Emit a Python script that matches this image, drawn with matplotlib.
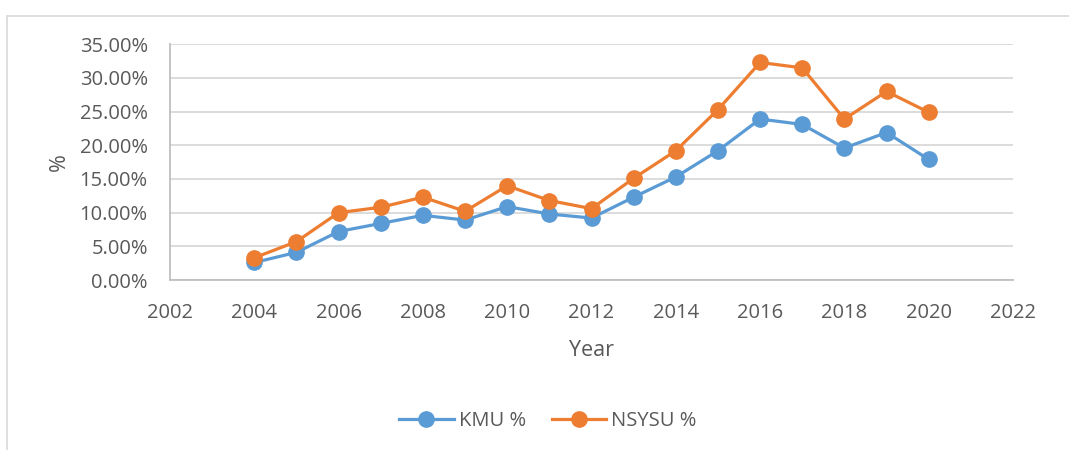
import matplotlib
matplotlib.use("Agg")
import matplotlib.pyplot as plt
from matplotlib.patches import Rectangle
from matplotlib.ticker import PercentFormatter

plt.rcParams["font.family"] = ["Open Sans", "DejaVu Sans"]

# 数据（从图中读取，单位 %）
years = [2004, 2005, 2006, 2007, 2008, 2009, 2010, 2011, 2012,
         2013, 2014, 2015, 2016, 2017, 2018, 2019, 2020]
kmu_pct = [2.6, 4.1, 7.2, 8.4, 9.6, 8.9, 10.9, 9.8, 9.2,
           12.3, 15.3, 19.2, 23.9, 23.1, 19.6, 21.9, 17.9]
nsysu_pct = [3.3, 5.7, 10.0, 10.8, 12.3, 10.2, 14.0, 11.8, 10.6,
             15.1, 19.2, 25.3, 32.3, 31.5, 23.9, 28.0, 24.9]

text_color = "#595959"
grid_color = "#d9d9d9"

fig = plt.figure(figsize=(10.69, 4.5), dpi=100)
ax = fig.add_axes([170 / 1069, 1 - 280 / 450, 843 / 1069, 235.7 / 450])

ax.plot(years, kmu_pct, color="#5B9BD5", lw=2.3, marker="o", ms=11, label="KMU %", zorder=3)
ax.plot(years, nsysu_pct, color="#ED7D31", lw=2.3, marker="o", ms=11, label="NSYSU %", zorder=3)

ax.set_xlim(2002, 2022)
ax.set_ylim(0, 35)
ax.set_xticks(range(2002, 2023, 2))
ax.set_yticks(range(0, 36, 5))
ax.yaxis.set_major_formatter(PercentFormatter(decimals=2))
ax.tick_params(length=0, labelsize=14.5, colors=text_color)
ax.tick_params(axis="y", pad=16)
ax.tick_params(axis="x", pad=16.5)

ax.grid(axis="y", color=grid_color, lw=1.3)
ax.set_axisbelow(True)
for s in ["top", "right"]:
    ax.spines[s].set_visible(False)
for s in ["left", "bottom"]:
    ax.spines[s].set_color("#bfbfbf")
    ax.spines[s].set_linewidth(1.3)

ax.set_xlabel("Year", fontsize=15.5, color=text_color, labelpad=12)
ax.set_ylabel("%", fontsize=15.5, color=text_color, labelpad=7)

fig.legend(loc="center", bbox_to_anchor=(548 / 1069, 1 - 421 / 450), ncol=2,
           frameon=False, fontsize=14.5, labelcolor=text_color, handlelength=2.7,
           columnspacing=1.3, handletextpad=0.25)

# 外框
fig.add_artist(Rectangle((7 / 1069, -0.1), 2, 1.1 - 15.5 / 450, transform=fig.transFigure,
                         fill=False, edgecolor=grid_color, lw=1.2, clip_on=False))

fig.savefig("out.png", dpi=100)
plt.close("all")
